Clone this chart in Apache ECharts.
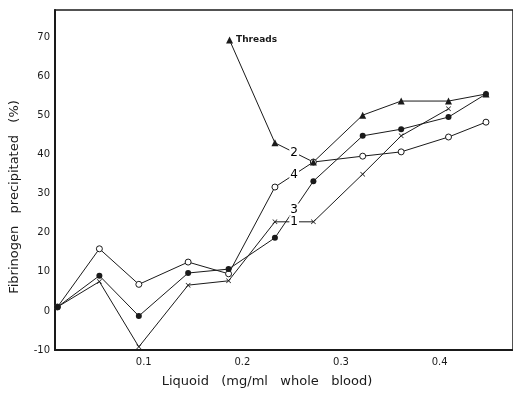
<!DOCTYPE html>
<html>
<head>
<meta charset="utf-8">
<script src="https://cdn.jsdelivr.net/npm/echarts@6/dist/echarts.min.js"></script>
<style>html,body{margin:0;padding:0;background:#fff;}#c{width:513px;height:393px;}</style>
</head>
<body>
<div id="c"></div>
<script>
// Liquoid dose (mg/ml whole blood)
var xs = [0.0125, 0.055, 0.095, 0.145, 0.186, 0.233, 0.272, 0.322, 0.361, 0.409, 0.447];
// Curve 1 (crosses)
var curve1 = [1, 7.5, -9.2, 6.6, 7.7, 22.8, 22.8, 35, 44.8, 51.7];
// Curve 3 (filled circles)
var curve3 = [1, 9, -1.3, 9.7, 10.7, 18.7, 33.2, 44.8, 46.5, 49.6, 55.5];
// Curve 4 (open circles)
var curve4 = [1, 15.9, 6.8, 12.5, 9.5, 31.7, 38.1, 39.6, 40.7, 44.5, 48.3];
// Curve 2 (triangles, first point = Threads)
var curve2X = [0.187, 0.233, 0.272, 0.322, 0.361, 0.409, 0.447];
var curve2 = [69.3, 43, 38.1, 50.1, 53.7, 53.7, 55.5];
var xTicks = [0.1, 0.2, 0.3, 0.4];
var yTicks = [-10, 0, 10, 20, 30, 40, 50, 60, 70];
var curveNames = ['1', '2', '3', '4'];

var ink = '#1a1a1a';
function pairs(xv, yv) { return yv.map(function (v, i) { return [xv[i], v]; }); }
function mid(xv, yv, i) { return [(xv[i] + xv[i + 1]) / 2, (yv[i] + yv[i + 1]) / 2]; }

var crossPath = 'path://M0,1L1,0L5,4L9,0L10,1L6,5L10,9L9,10L5,6L1,10L0,9L4,5Z';

var base = { type: 'line', lineStyle: { color: ink, width: 1 }, itemStyle: { color: ink }, z: 3, animation: false,
  emphasis: { disabled: true } };

var s1 = Object.assign({}, base, { name: '1', data: pairs(xs, curve1), symbol: crossPath, symbolSize: 5 });
var s3 = Object.assign({}, base, { name: '3', data: pairs(xs, curve3), symbol: 'circle', symbolSize: 6 });
var s4 = Object.assign({}, base, { name: '4', data: pairs(xs, curve4), symbol: 'circle', symbolSize: 6,
  itemStyle: { color: '#fff', borderColor: ink, borderWidth: 1 } });
var d2 = pairs(curve2X, curve2);
d2[0] = { value: d2[0], label: { show: true, position: 'right', formatter: 'Threads', distance: 3,
  fontFamily: 'DejaVu Sans', fontSize: 9, fontWeight: 'bold', color: ink } };
var s2 = Object.assign({}, base, { name: '2', data: d2, symbol: 'triangle', symbolSize: 7 });

var labelPts = [
  { value: mid(xs, curve1, 5), name: curveNames[0] },
  { value: mid(curve2X, curve2, 1), name: curveNames[1] },
  { value: mid(xs, curve3, 5), name: curveNames[2] },
  { value: mid(xs, curve4, 5), name: curveNames[3] }
];
var sLabels = { type: 'scatter', data: labelPts, symbolSize: 0, z: 5, animation: false,
  itemStyle: { opacity: 1 },
  emphasis: { disabled: true },
  label: { show: true, position: 'inside', formatter: '{b}', color: '#000', fontFamily: 'DejaVu Sans',
    fontSize: 12, backgroundColor: '#fff', padding: [0, 1, 0, 1] } };

var chart = echarts.init(document.getElementById('c'), null, { renderer: 'canvas' });
chart.setOption({
  backgroundColor: '#fff',
  animation: false,
  grid: { left: 53, top: 10, right: -3, bottom: 42, show: true, borderColor: ink, borderWidth: 1.5, containLabel: false },
  xAxis: {
    type: 'value', min: 0.01, max: 0.4744,
    axisLine: { show: true, onZero: false, lineStyle: { color: ink, width: 2 } },
    axisTick: { show: false },
    splitLine: { show: false },
    axisLabel: { customValues: xTicks, color: ink, fontFamily: 'DejaVu Sans', fontSize: 10, margin: 7 },
    name: 'Liquoid   (mg/ml   whole   blood)', nameLocation: 'middle', nameGap: 25,
    nameTextStyle: { color: ink, fontFamily: 'DejaVu Sans', fontSize: 13, padding: [0, 34, 0, 0] }
  },
  yAxis: {
    type: 'value', min: -10, max: 77,
    axisLine: { show: true, onZero: false, lineStyle: { color: ink, width: 2 } },
    axisTick: { show: false },
    splitLine: { show: false },
    axisLabel: { customValues: yTicks, color: ink, fontFamily: 'DejaVu Sans', fontSize: 10, margin: 5 },
    name: 'Fibrinogen   precipitated   (%)', nameLocation: 'middle', nameGap: 34,
    nameTextStyle: { color: ink, fontFamily: 'DejaVu Sans', fontSize: 13, padding: [0, 34, 0, 0] }
  },
  series: [s4, s1, s3, s2, sLabels]
});
</script>
</body>
</html>
